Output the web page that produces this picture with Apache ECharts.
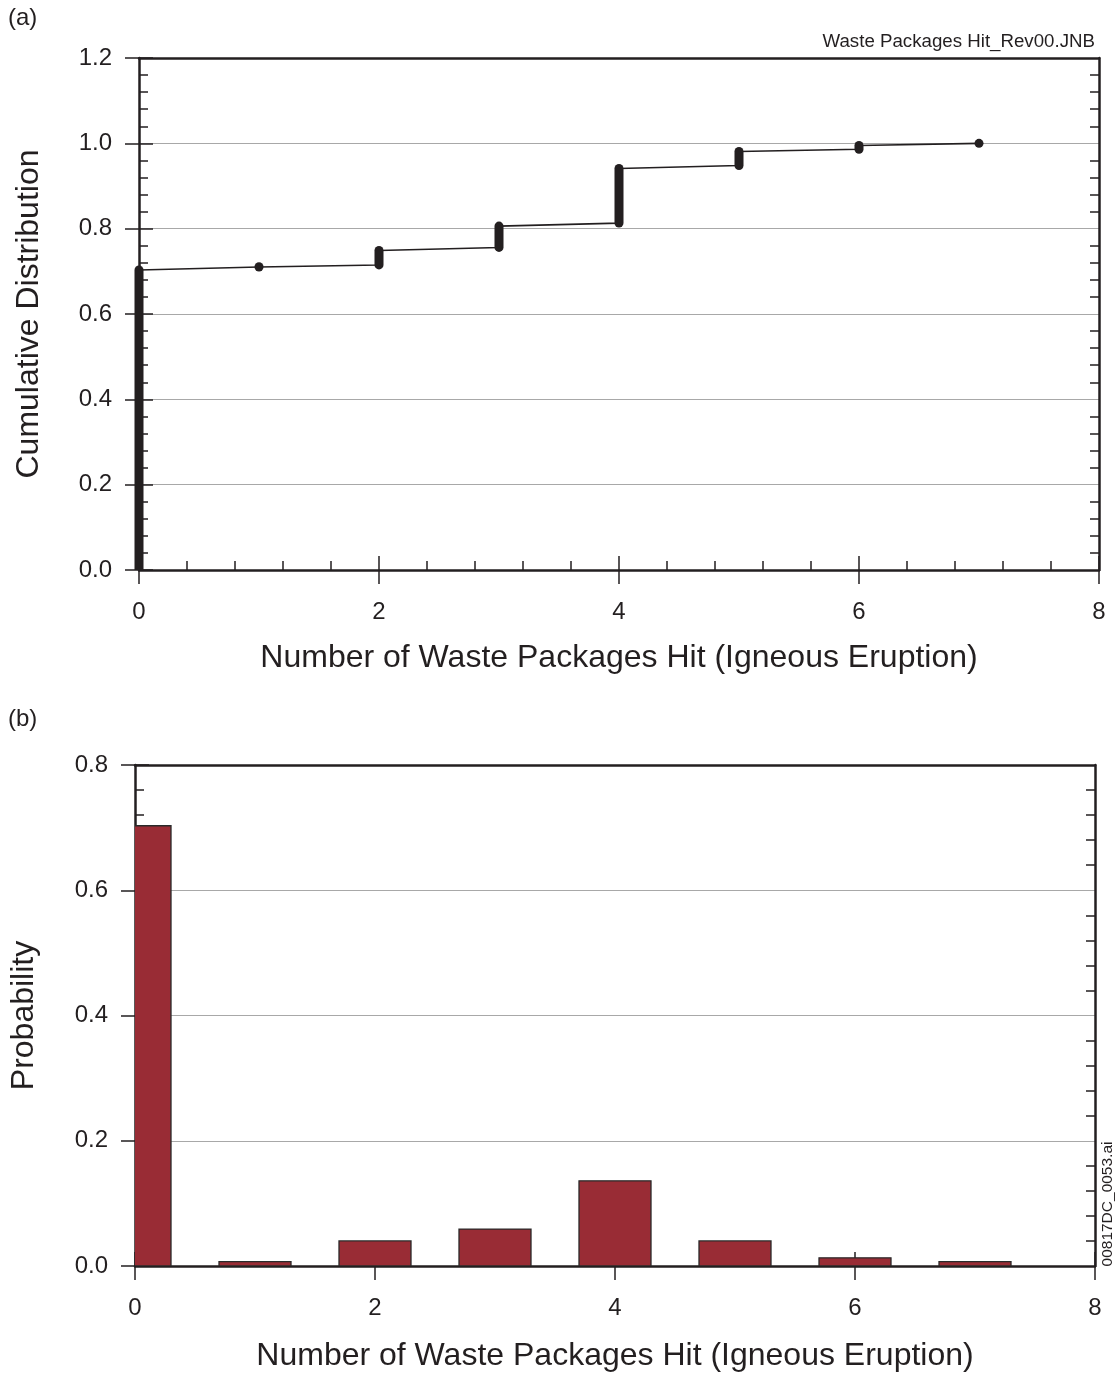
<!DOCTYPE html>
<html>
<head>
<meta charset="utf-8">
<script src="https://cdn.jsdelivr.net/npm/echarts@6/dist/echarts.min.js"></script>
<style>
  html, body { margin: 0; padding: 0; background: #ffffff; }
  #chart { width: 1115px; height: 1373px; }
</style>
</head>
<body>
<div id="chart"></div>
<script>
// Number of waste packages hit per realization
const hitCounts = [0, 1, 2, 3, 4, 5, 6, 7];
// Cumulative fraction at the first and the last sorted sample of each count
const cdfStart = [0.000, 0.710, 0.715, 0.756, 0.813, 0.948, 0.986, 1.000];
const cdfEnd   = [0.703, 0.711, 0.749, 0.806, 0.941, 0.981, 0.995, 1.000];
// Probability of each count
const probability = [0.703, 0.007, 0.040, 0.059, 0.136, 0.040, 0.013, 0.007];

const cdfTickLabels = ['0.0', '0.2', '0.4', '0.6', '0.8', '1.0', '1.2'];
const probTickLabels = ['0.0', '0.2', '0.4', '0.6', '0.8'];
const xTickLabels = ['0', '2', '4', '6', '8'];

const xTitle = 'Number of Waste Packages Hit (Igneous Eruption)';
const FONT = '"Liberation Sans", Arial, sans-serif';
const INK = '#231f20';
const GRIDLINE = '#a8a8a8';
const BAR_SPAN = 0.6; // bar width in units of the count axis

// sorted-sample curve: each count contributes its first and last sample
const cdfLine = [];
hitCounts.forEach((k, i) => {
  cdfLine.push([k, cdfStart[i]]);
  cdfLine.push([k, cdfEnd[i]]);
});
const cdfStacks = hitCounts.map((k, i) => [k, cdfStart[i], cdfEnd[i]]);
const bars = hitCounts.map((k, i) => [k, probability[i]]);

const labelFromList = (list, step) => (v) => {
  const idx = Math.round(v / step);
  return list[idx] !== undefined ? list[idx] : '';
};

// markers stacked at one count merge into a rounded column
function renderStack(params, api) {
  const x = api.value(0), lo = api.value(1), hi = api.value(2);
  const pLo = api.coord([x, lo]);
  const pHi = api.coord([x, hi]);
  const cs = params.coordSys;
  const r = 4.5;
  const floor = cs.y + cs.height;
  const clipped = pLo[1] + r > floor;
  const bottom = clipped ? floor : pLo[1] + r;
  const top = pHi[1] - r;
  return {
    type: 'rect',
    shape: { x: pLo[0] - r, y: top, width: 2 * r, height: bottom - top, r: clipped ? [r, r, 0, 0] : r },
    style: { fill: INK }
  };
}

// histogram bar centred on its count, clipped to the plot area
function renderBar(params, api) {
  const k = api.value(0), p = api.value(1);
  const tl = api.coord([k - BAR_SPAN / 2, p]);
  const br = api.coord([k + BAR_SPAN / 2, 0]);
  return {
    type: 'rect',
    shape: { x: tl[0], y: tl[1], width: br[0] - tl[0], height: br[1] - tl[1] },
    style: { fill: '#992c35', stroke: '#2a2a2a', lineWidth: 1.3 }
  };
}

const axisLineStyle = { color: INK, width: 2.5 };
const tickStyle = { color: INK, width: 1.5 };

function xAxesFor(gridIndex, withMinor, labelList, nameGap) {
  return [
    { // labelled bottom axis, outer half of the major ticks
      type: 'value', gridIndex, position: 'bottom', min: 0, max: 8, interval: 2,
      name: xTitle, nameLocation: 'middle', nameGap,
      nameTextStyle: { fontFamily: FONT, fontSize: 32, color: INK },
      axisLine: { show: true, onZero: false, lineStyle: axisLineStyle },
      axisTick: { show: true, length: 14, lineStyle: tickStyle },
      axisLabel: { show: true, margin: 30, fontFamily: FONT, fontSize: 24, color: INK,
                   formatter: labelFromList(labelList, 2) },
      splitLine: { show: false }
    },
    { // inner half of the major ticks and the minor ticks
      type: 'value', gridIndex, position: 'bottom', min: 0, max: 8, interval: 2, offset: 0,
      axisLine: { show: false, onZero: false },
      axisTick: { show: true, inside: true, length: 14, lineStyle: tickStyle },
      minorTick: { show: withMinor, splitNumber: 5, length: 9, lineStyle: tickStyle },
      axisLabel: { show: false },
      splitLine: { show: false }
    },
    { // frame top
      type: 'value', gridIndex, position: 'top', min: 0, max: 8, interval: 2,
      axisLine: { show: true, onZero: false, lineStyle: axisLineStyle },
      axisTick: { show: false }, axisLabel: { show: false }, splitLine: { show: false }
    }
  ];
}

function yAxesFor(gridIndex, maxVal, name, nameGap, labelList) {
  return [
    {
      type: 'value', gridIndex, position: 'left', min: 0, max: maxVal, interval: 0.2,
      name, nameLocation: 'middle', nameGap,
      nameTextStyle: { fontFamily: FONT, fontSize: 32, color: INK },
      axisLine: { show: true, onZero: false, lineStyle: axisLineStyle },
      axisTick: { show: true, length: 14, lineStyle: tickStyle },
      axisLabel: { show: true, margin: 27, fontFamily: FONT, fontSize: 24, color: INK,
                   formatter: labelFromList(labelList, 0.2) },
      splitLine: { show: true, lineStyle: { color: GRIDLINE, width: 1 } }
    },
    {
      type: 'value', gridIndex, position: 'left', min: 0, max: maxVal, interval: 0.2, offset: 0,
      axisLine: { show: false, onZero: false },
      axisTick: { show: true, inside: true, length: 14, lineStyle: tickStyle },
      minorTick: { show: true, splitNumber: 5, length: 9, lineStyle: tickStyle },
      axisLabel: { show: false }, splitLine: { show: false }
    },
    { // frame right with inward minor ticks
      type: 'value', gridIndex, position: 'right', min: 0, max: maxVal, interval: 0.2,
      axisLine: { show: true, onZero: false, lineStyle: axisLineStyle },
      axisTick: { show: false, inside: true },
      minorTick: { show: true, splitNumber: 5, length: 9, lineStyle: tickStyle },
      axisLabel: { show: false }, splitLine: { show: false }
    }
  ];
}

const chart = echarts.init(document.getElementById('chart'), null, { renderer: 'canvas' });

chart.setOption({
  backgroundColor: '#ffffff',
  animation: false,
  grid: [
    { left: 139, right: 16, top: 58, height: 512 },
    { left: 135, right: 20, top: 765, height: 501 }
  ],
  xAxis: [...xAxesFor(0, true, xTickLabels, 72), ...xAxesFor(1, false, xTickLabels, 74)],
  yAxis: [
    ...yAxesFor(0, 1.2, 'Cumulative Distribution', 94, cdfTickLabels),
    ...yAxesFor(1, 0.8, 'Probability', 95, probTickLabels)
  ],
  series: [
    {
      type: 'line', xAxisIndex: 0, yAxisIndex: 0, data: cdfLine,
      showSymbol: false, symbol: 'none',
      lineStyle: { color: INK, width: 1.6 }, z: 3
    },
    {
      type: 'custom', xAxisIndex: 0, yAxisIndex: 0, data: cdfStacks,
      encode: { x: 0, y: [1, 2] }, renderItem: renderStack, clip: false, z: 4
    },
    {
      type: 'custom', xAxisIndex: 3, yAxisIndex: 3, data: bars,
      encode: { x: 0, y: 1 }, renderItem: renderBar, clip: true, z: 3
    }
  ],
  graphic: [
    { type: 'text', left: 8, top: 6, style: { text: '(a)', font: '24px ' + FONT, fill: INK } },
    { type: 'text', left: 8, top: 707, style: { text: '(b)', font: '24px ' + FONT, fill: INK } },
    { type: 'text', x: 1095, y: 42, style: { text: 'Waste Packages Hit_Rev00.JNB', font: '18.7px ' + FONT,
      fill: INK, align: 'right', verticalAlign: 'middle' } },
    { type: 'text', x: 1108, y: 1204, rotation: Math.PI / 2,
      style: { text: '00817DC_0053.ai', font: '15.5px ' + FONT, fill: INK, align: 'center', verticalAlign: 'middle' } }
  ]
});
</script>
</body>
</html>
